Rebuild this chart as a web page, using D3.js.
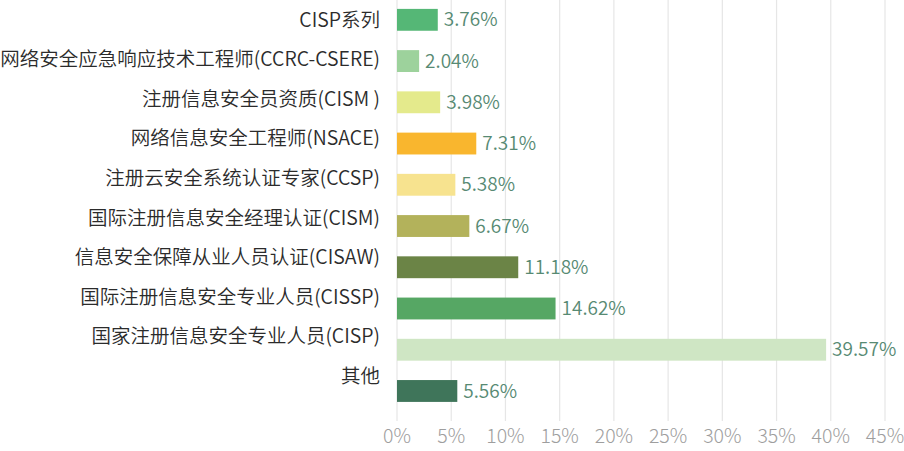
<!DOCTYPE html>
<html><head><meta charset="utf-8">
<script src="https://cdn.jsdelivr.net/npm/d3@7"></script>
<style>body{margin:0;background:#fff;}svg{display:block;font-family:"Noto Sans CJK SC","Noto Sans",sans-serif;font-weight:350;}</style>
</head><body>
<svg id="c" width="904" height="451"></svg>
<script>
const categories = ["CISP系列","网络安全应急响应技术工程师(CCRC-CSERE)","注册信息安全员资质(CISM )","网络信息安全工程师(NSACE)","注册云安全系统认证专家(CCSP)","国际注册信息安全经理认证(CISM)","信息安全保障从业人员认证(CISAW)","国际注册信息安全专业人员(CISSP)","国家注册信息安全专业人员(CISP)","其他"];
const values = [3.76,2.04,3.98,7.31,5.38,6.67,11.18,14.62,39.57,5.56];
const colors = ["#55b776","#9dd29c","#e4ea8c","#f9b62e","#f7e38f","#b3b25b","#6b8446","#56a764","#cfe6c4","#3f755a"];
const ticks = [0,5,10,15,20,25,30,35,40,45];

const svg = d3.select("#c");
const x = d3.scaleLinear().domain([0,45]).range([397,885]);
const y = d3.scaleBand().domain(categories).range([-0.8,411.6]).paddingInner(0.47).paddingOuter(0.235);
const yl = d3.scaleBand().domain(categories).range([0.2,395.8]);

svg.append("g").selectAll("line").data(ticks).join("line")
  .attr("x1",d=>x(d)).attr("x2",d=>x(d)).attr("y1",0).attr("y2",421)
  .attr("stroke","#e6e6e6").attr("stroke-width",1.2);

svg.append("g").selectAll("text").data(ticks).join("text")
  .attr("x",d=>x(d)).attr("y",436).attr("dy","0.35em").attr("text-anchor","middle")
  .attr("font-size",19.5).attr("font-weight",300).attr("fill","#9e9e9e").text(d=>d+"%");

svg.append("g").selectAll("rect").data(values).join("rect")
  .attr("x",x(0)).attr("y",(d,i)=>y(categories[i]))
  .attr("width",d=>x(d)-x(0)).attr("height",y.bandwidth())
  .attr("fill",(d,i)=>colors[i]);

svg.append("g").selectAll("text").data(values).join("text")
  .attr("x",d=>x(d)+6).attr("y",(d,i)=>y(categories[i])+y.bandwidth()/2)
  .attr("dy","0.35em").attr("font-size",19).attr("fill","#578a73")
  .text(d=>d.toFixed(2)+"%");

svg.append("g").selectAll("text").data(categories).join("text")
  .attr("x",380).attr("y",d=>yl(d)+yl.bandwidth()/2).attr("dy","0.35em")
  .attr("text-anchor","end").attr("font-size",19.5).attr("fill","#2b2b2b")
  .text(d=>d);
</script>
</body></html>
